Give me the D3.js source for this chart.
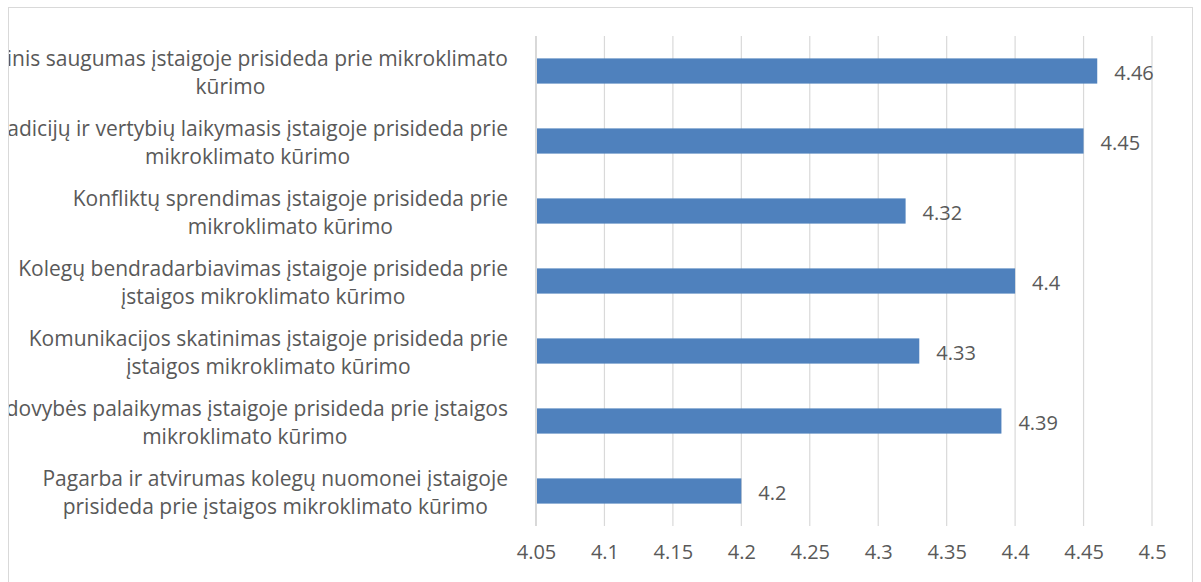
<!DOCTYPE html>
<html>
<head>
<meta charset="utf-8">
<script src="https://cdn.jsdelivr.net/npm/d3@7"></script>
<style>
  body { margin: 0; background: #fff; }
  text { font-family: "Open Sans", "Noto Sans", sans-serif; fill: #595959; }
</style>
</head>
<body>
<div id="chart-area"></div>
<script>
const categories = [
  "Emocinis saugumas įstaigoje prisideda prie mikroklimato|kūrimo",
  "Tradicijų ir vertybių laikymasis įstaigoje prisideda prie|mikroklimato kūrimo",
  "Konfliktų sprendimas įstaigoje prisideda prie|mikroklimato kūrimo",
  "Kolegų bendradarbiavimas įstaigoje prisideda prie|įstaigos mikroklimato kūrimo",
  "Komunikacijos skatinimas įstaigoje prisideda prie|įstaigos mikroklimato kūrimo",
  "Vadovybės palaikymas įstaigoje prisideda prie įstaigos|mikroklimato kūrimo",
  "Pagarba ir atvirumas kolegų nuomonei įstaigoje|prisideda prie įstaigos mikroklimato kūrimo"
];
const values = [4.46, 4.45, 4.32, 4.4, 4.33, 4.39, 4.2];
const ticks = [4.05, 4.1, 4.15, 4.2, 4.25, 4.3, 4.35, 4.4, 4.45, 4.5];

const drawChart = () => {
  const chartSize = { width: 1201, height: 582 };
  const margin = { left: 536, right: 49, top: 36, bottom: 56 };
  const width = chartSize.width - margin.left - margin.right;
  const height = chartSize.height - margin.top - margin.bottom;

  const svg = d3.select("#chart-area")
    .append("svg")
    .attr("width", chartSize.width)
    .attr("height", chartSize.height);

  svg.append("defs").append("clipPath").attr("id", "clip")
    .append("rect")
    .attr("x", 9).attr("y", 0)
    .attr("width", chartSize.width).attr("height", chartSize.height);

  // outer border of the chart
  svg.append("rect")
    .attr("x", 8.5).attr("y", 7.5)
    .attr("width", 1184).attr("height", 600)
    .attr("fill", "none")
    .attr("stroke", "#d9d9d9");

  const g = svg.append("g")
    .attr("transform", `translate(${margin.left}, ${margin.top})`);

  const x = d3.scaleLinear().domain([4.05, 4.5]).range([0, width]);
  const y = d3.scaleBand()
    .domain(categories)
    .range([0, height])
    .paddingInner(0.64)
    .paddingOuter(0.32);

  // gridlines
  g.selectAll(".grid")
    .data(ticks.slice(1))
    .enter().append("line")
    .attr("x1", d => x(d)).attr("x2", d => x(d))
    .attr("y1", 0).attr("y2", height)
    .attr("stroke", "#d9d9d9")
    .attr("stroke-width", 1.2);

  const xAxis = d3.axisBottom(x).tickValues(ticks).tickSize(0).tickPadding(19)
    .tickFormat(d => String(+d.toFixed(2)));
  g.append("g")
    .attr("class", "x-axis")
    .attr("transform", `translate(0, ${height})`)
    .call(xAxis)
    .call(a => a.select(".domain").remove())
    .selectAll("text")
    .style("font-size", "20px")
    .style("font-family", "'Open Sans', sans-serif")
    .attr("fill", "#595959");

  g.append("line")
    .attr("x1", 0).attr("x2", 0)
    .attr("y1", 0).attr("y2", height)
    .attr("stroke", "#bfbfbf")
    .attr("stroke-width", 1.2);

  g.selectAll(".bar")
    .data(values)
    .enter().append("rect")
    .attr("x", x(4.05) + 1)
    .attr("y", (d, i) => y(categories[i]))
    .attr("width", d => x(d) - x(4.05) - 1)
    .attr("height", y.bandwidth())
    .attr("fill", "#4f81bd");

  g.selectAll(".val")
    .data(values)
    .enter().append("text")
    .attr("x", d => x(d) + 17)
    .attr("y", (d, i) => y(categories[i]) + y.bandwidth() / 2 + 2)
    .attr("dy", "0.35em")
    .style("font-size", "20px")
    .text(d => d);

  // category labels: block right-aligned, lines centred within it
  const labels = svg.append("g").attr("clip-path", "url(#clip)");
  const rightEdge = 508;
  categories.forEach((c, i) => {
    const lines = c.split("|");
    const cy = margin.top + y(c) + y.bandwidth() / 2 + 2;
    const t = labels.append("text")
      .style("font-size", "21px")
      .attr("text-anchor", "middle");
    lines.forEach((l, j) => {
      t.append("tspan")
        .attr("y", cy + (j - (lines.length - 1) / 2) * 28)
        .attr("dy", "0.35em")
        .text(l);
    });
    const w = d3.max(t.selectAll("tspan").nodes(), n => n.getComputedTextLength());
    t.selectAll("tspan").attr("x", rightEdge - w / 2);
  });
};

window.onload = drawChart;
</script>
</body>
</html>
